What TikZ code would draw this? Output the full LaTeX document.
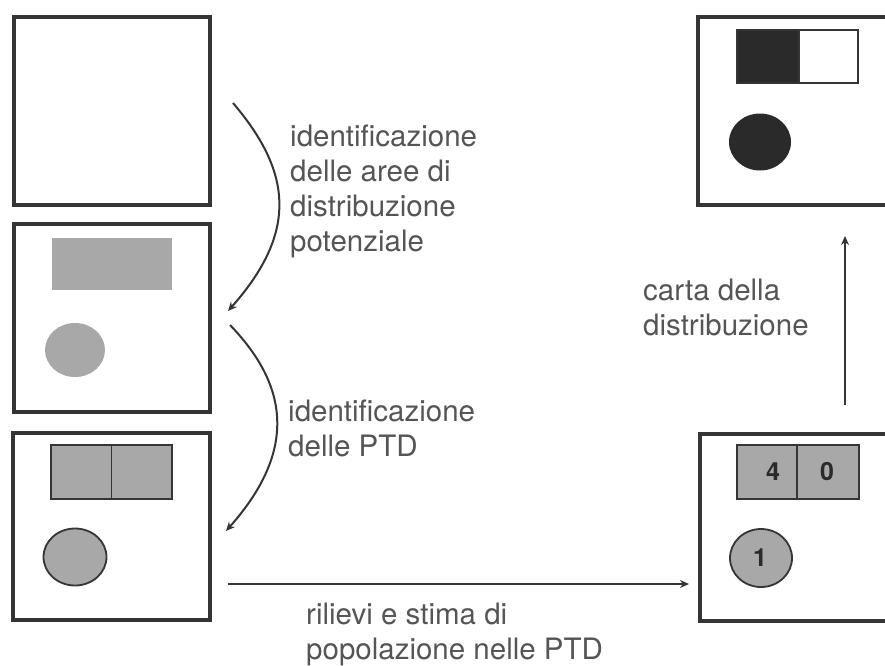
\documentclass[tikz,border=0pt]{standalone}
\usepackage{fontspec}
\setmainfont{TeX Gyre Heros}
\usetikzlibrary{arrows.meta,shapes.geometric}
\definecolor{frame}{HTML}{353535}
\definecolor{shade}{HTML}{A8A8A8}
\definecolor{ink}{HTML}{2A2A2A}
\definecolor{label}{HTML}{555555}
\tikzset{
  panel/.style={draw=frame, line width=3.2pt, fill=white, rectangle, inner sep=0pt},
  patch/.style={draw=frame, line width=1.8pt, fill=shade, rectangle, inner sep=0pt},
  blob/.style={draw=frame, line width=1.8pt, fill=shade, ellipse, inner sep=0pt},
  flow/.style={draw=frame, line width=2pt, -{Stealth[length=9pt,width=8pt]}},
  caption/.style={text=label, align=left, anchor=north west, inner sep=0pt,
    font=\fontsize{29.5}{35}\selectfont},
  count/.style={text=ink, font=\fontsize{25}{25}\selectfont\bfseries}
}
\begin{document}
\begin{tikzpicture}[x=1pt,y=-1pt]
\useasboundingbox (0,0) rectangle (885,665);
\begin{scope}
\clip (0,0) rectangle (885,665);

% left column of panels
\node[panel, minimum width=196pt, minimum height=188pt] (p1) at (112,111) {};
\node[panel, minimum width=196pt, minimum height=188pt] (p2) at (112,318) {};
\node[panel, minimum width=197pt, minimum height=187pt] (p3) at (111.5,526.5) {};

% right column of panels (running off the right edge)
\node[panel, minimum width=194pt, minimum height=188pt] (p4) at (795,111) {};
\node[panel, minimum width=192pt, minimum height=187pt] (p5) at (796,527.5) {};

% panel 2: potential areas
\node[rectangle, fill=shade, minimum width=120pt, minimum height=52pt, inner sep=0pt] (a2) at (112,264) {};
\node[ellipse, fill=shade, minimum width=60pt, minimum height=54pt, inner sep=0pt] (c2) at (75,350) {};

% panel 3: PTD split
\node[patch, minimum width=60.5pt, minimum height=54pt] (a3l) at (81.25,472) {};
\node[patch, minimum width=60.5pt, minimum height=54pt] (a3r) at (141.75,472) {};
\node[blob, minimum width=63pt, minimum height=57pt] (c3) at (75,557) {};

% panel 5: counts
\node[patch, minimum width=60pt, minimum height=54pt] (a5l) at (767,472) {};
\node[patch, minimum width=62pt, minimum height=54pt] (a5r) at (828,472) {};
\node[blob, minimum width=62pt, minimum height=58pt] (c5) at (761,558) {};
\node[count] at (773,472) {4};
\node[count] at (827,472) {0};
\node[count] at (760,558) {1};

% panel 4: resulting distribution
\node[rectangle, draw=frame, line width=1.8pt, fill=ink, minimum width=62pt, minimum height=53pt, inner sep=0pt] (a4l) at (768,56.5) {};
\node[rectangle, draw=frame, line width=1.8pt, fill=white, minimum width=59pt, minimum height=53pt, inner sep=0pt] (a4r) at (828.5,56.5) {};
\node[ellipse, fill=ink, minimum width=62pt, minimum height=57pt, inner sep=0pt] (c4) at (760,142) {};
\end{scope}

% connector end points
\coordinate (s1) at (233,103);
\coordinate (e1) at (228,311);
\coordinate (s2) at (230,325);
\coordinate (e2) at (226,531);
\coordinate (s3) at ([xshift=16pt]p3.east |- 0,584);
\coordinate (e3) at (689,584);
\coordinate (s4) at (845,405);
\coordinate (e4) at (845,236);

\draw[flow] (s1) .. controls (290,170) and (300,230) .. (e1);
\draw[flow] (s2) .. controls (288,385) and (298,450) .. (e2);
\draw[flow] (s3) -- (e3);
\draw[flow] (s4) -- (e4);

% step descriptions
\node[caption] (t1) at (290,125) {identificazione\\delle aree di\\distribuzione\\potenziale};
\node[caption] (t2) at (288,400) {identificazione\\delle PTD};
\node[caption] (t3) at (643,279) {carta della\\distribuzione};
\node[caption] (t4) at (306,603) {rilievi e stima di\\popolazione nelle PTD};
\end{tikzpicture}
\end{document}
